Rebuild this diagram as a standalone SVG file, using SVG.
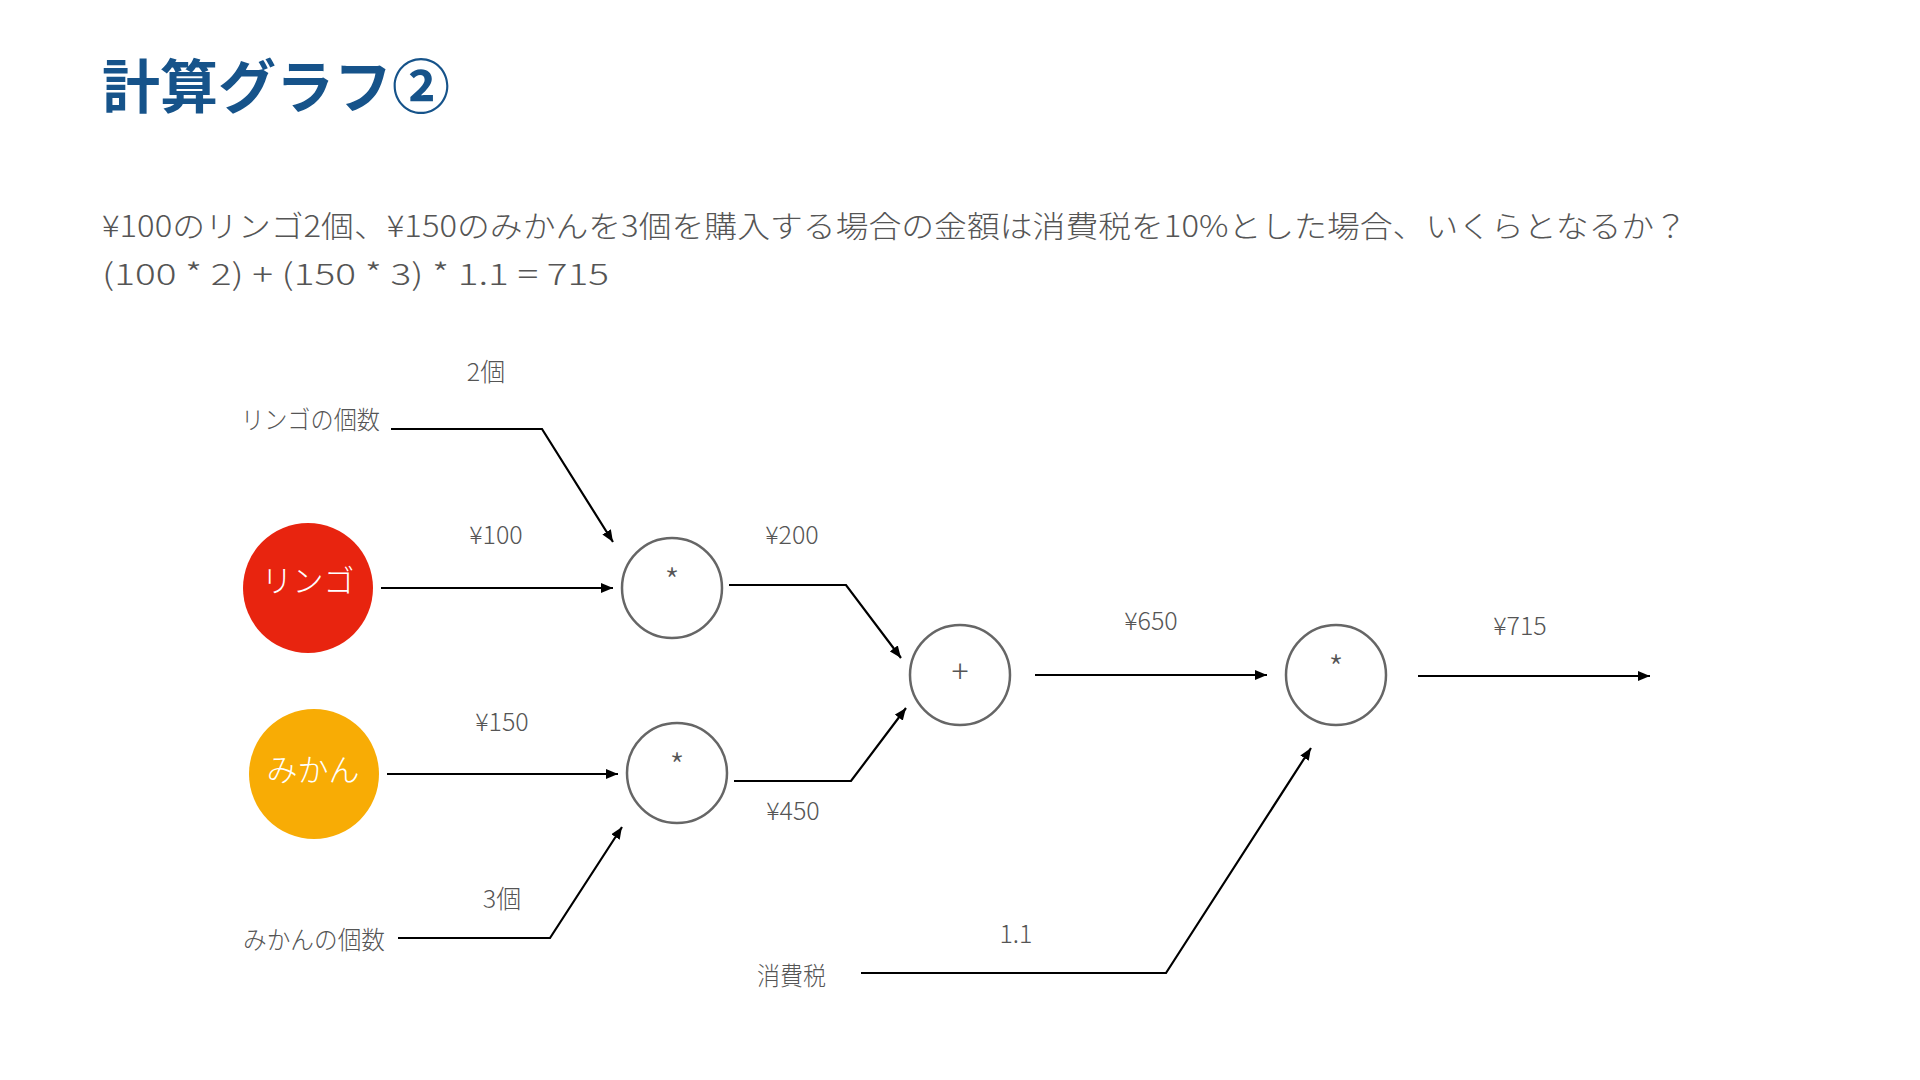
<svg xmlns="http://www.w3.org/2000/svg" width="1920" height="1080" viewBox="0 0 1920 1080">
<style>
.t{font-family:"Noto Sans CJK JP","Liberation Sans",sans-serif}
.title{font-size:58px;font-weight:700;fill:#16538a}
.sub{font-size:30px;font-weight:300;fill:#555}
.lbl{font-size:25px;font-weight:300;fill:#555}
.in{font-size:31px;font-weight:300;fill:#fff}
.op{fill:none;stroke:#666;stroke-width:2.5}
.opt{fill:#555;font-weight:300}
.c{fill:none;stroke:#000;stroke-width:2.2}
</style>
<defs>
<marker id="ah" viewBox="0 0 12 10" refX="12" refY="5" markerWidth="12" markerHeight="10" markerUnits="userSpaceOnUse" orient="auto">
<path d="M0,0 L12,5 L0,10 Z" fill="#000"/>
</marker>
</defs>
<rect width="1920" height="1080" fill="#fff"/>
<text class="t title" x="102" y="108">計算グラフ②</text>
<text class="t sub" x="102" y="237" textLength="1585" lengthAdjust="spacingAndGlyphs">¥100のリンゴ2個、¥150のみかんを3個を購入する場合の金額は消費税を10%とした場合、いくらとなるか？</text>
<text class="t sub" x="102" y="285" textLength="507" lengthAdjust="spacingAndGlyphs">(100 * 2) + (150 * 3) * 1.1 = 715</text>

<g id="connectors">
<polyline class="c" points="391,429 542,429 613,542" marker-end="url(#ah)"/>
<line class="c" x1="381" y1="588" x2="613" y2="588" marker-end="url(#ah)"/>
<line class="c" x1="387" y1="774" x2="618" y2="774" marker-end="url(#ah)"/>
<polyline class="c" points="398,938 550,938 622,827" marker-end="url(#ah)"/>
<polyline class="c" points="729,585 846,585 901,658" marker-end="url(#ah)"/>
<polyline class="c" points="734,781 851,781 906,708" marker-end="url(#ah)"/>
<line class="c" x1="1035" y1="675" x2="1267" y2="675" marker-end="url(#ah)"/>
<line class="c" x1="1418" y1="676" x2="1650" y2="676" marker-end="url(#ah)"/>
<polyline class="c" points="861,973 1166,973 1311,748" marker-end="url(#ah)"/>
</g>

<g id="labels">
<text class="t lbl" x="486" y="381" text-anchor="middle">2個</text>
<text class="t lbl" x="496" y="544" text-anchor="middle">¥100</text>
<text class="t lbl" x="792" y="544" text-anchor="middle">¥200</text>
<text class="t lbl" x="502" y="731" text-anchor="middle">¥150</text>
<text class="t lbl" x="793" y="820" text-anchor="middle">¥450</text>
<text class="t lbl" x="502" y="908" text-anchor="middle">3個</text>
<text class="t lbl" x="1151" y="630" text-anchor="middle">¥650</text>
<text class="t lbl" x="1520" y="635" text-anchor="middle">¥715</text>
<text class="t lbl" x="1016" y="943" text-anchor="middle">1.1</text>
</g>

<g id="apple-count"><text class="t lbl" x="241" y="429" textLength="139" lengthAdjust="spacingAndGlyphs">リンゴの個数</text></g>
<g id="orange-count"><text class="t lbl" x="243" y="949" textLength="142" lengthAdjust="spacingAndGlyphs">みかんの個数</text></g>
<g id="tax"><text class="t lbl" x="757" y="985" textLength="69" lengthAdjust="spacingAndGlyphs">消費税</text></g>

<g id="apple">
<circle cx="308" cy="588" r="65" fill="#e8240f"/>
<text class="t in" x="308" y="592" text-anchor="middle">リンゴ</text>
</g>
<g id="orange">
<circle cx="314" cy="774" r="65" fill="#f8ac05"/>
<text class="t in" x="313" y="781" text-anchor="middle">みかん</text>
</g>
<g id="mul1">
<circle class="op" cx="672" cy="588" r="50"/>
<text class="t opt" x="672" y="594" font-size="34" text-anchor="middle">*</text>
</g>
<g id="mul2">
<circle class="op" cx="677" cy="773" r="50"/>
<text class="t opt" x="677" y="779" font-size="34" text-anchor="middle">*</text>
</g>
<g id="add">
<circle class="op" cx="960" cy="675" r="50"/>
<text class="t opt" x="960" y="683" font-size="32" text-anchor="middle">+</text>
</g>
<g id="mul3">
<circle class="op" cx="1336" cy="675" r="50"/>
<text class="t opt" x="1336" y="681" font-size="34" text-anchor="middle">*</text>
</g>
</svg>
